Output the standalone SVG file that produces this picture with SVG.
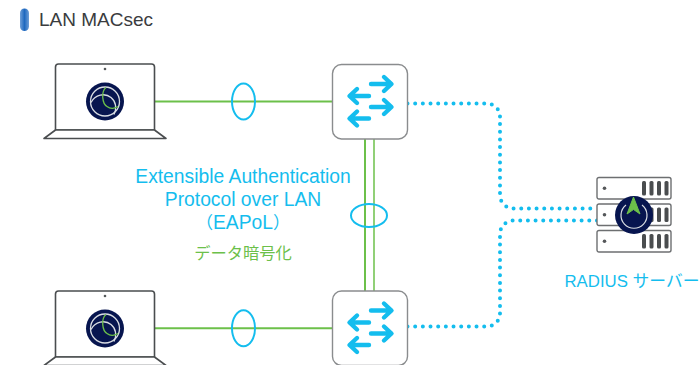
<svg xmlns="http://www.w3.org/2000/svg" width="699" height="365" viewBox="0 0 699 365">
<style>
text{font-family:"Liberation Sans","Noto Sans CJK JP",sans-serif}
.blue{fill:#14bdee}
.link{fill:none;stroke:#6cc04a;stroke-width:2}
.ring{fill:none;stroke:#14bdee;stroke-width:2}
.dots{fill:none;stroke:#14bdee;stroke-width:4;stroke-linecap:round;stroke-dasharray:0 7.67}
.edge{fill:#fff;stroke:#4a4d4f;stroke-width:1.6;stroke-linejoin:round}
.box{fill:#fff;stroke:#8a8c8e;stroke-width:1.4}
.arr{fill:none;stroke:#14bdee;stroke-width:4.4;stroke-linecap:round;stroke-linejoin:round}
.srv{fill:#fff;stroke:#6d6f71;stroke-width:1.4}
.bar{fill:#4a4d4f}
</style>
<defs>
<linearGradient id="pill" x1="0" x2="1" y1="0" y2="0">
<stop offset="0" stop-color="#6f9fd8"/>
<stop offset="0.5" stop-color="#1f69bf"/>
<stop offset="1" stop-color="#6f9fd8"/>
</linearGradient>
<g id="globe">
<circle r="19" fill="#07154f"/>
<circle r="14.500" fill="none" stroke="#d9dde3" stroke-width="1.300"/>
<path d="M-14 1C-10-7 0-9 6-4C11 0 12 7 9 13" fill="none" stroke="#d9dde3" stroke-width="1.300"/>
<path d="M1-14C-4-10-3 2 2 5C6 8 9 7 13 5" fill="none" stroke="#6cc04a" stroke-width="1.300"/>
</g>
<g id="laptop">
<path class="edge" d="M55.500 130V67a3 3 0 0 1 3-3H151.500a3 3 0 0 1 3 3V130Z"/>
<path class="edge" d="M55.500 130L44 138.500H166L154.500 130Z"/>
<circle cx="105" cy="69" r="1.300" fill="#55585a"/>
<use href="#globe" x="105" y="101.500"/>
</g>
<g id="switch">
<rect class="box" x="332.500" y="64.500" width="75" height="74.500" rx="9"/>
<path class="arr" d="M371 84H391M384 77L391.500 84L384 91"/>
<path class="arr" d="M369 96H350M357 89L349.500 96L357 103"/>
<path class="arr" d="M371 107H391M384 100L391.500 107L384 114"/>
<path class="arr" d="M369 118.500H350M357 111.500L349.500 118.500L357 125.500"/>
</g>
<g id="rack">
<rect class="srv" x="0" y="0" width="74" height="21.500" rx="2"/>
<circle cx="7.500" cy="10.700" r="1.800" fill="#55585a"/>
<rect class="bar" x="45" y="3.500" width="4" height="14.500" rx="1.500"/>
<rect class="bar" x="52.500" y="3.500" width="4" height="14.500" rx="1.500"/>
<rect class="bar" x="60" y="3.500" width="4" height="14.500" rx="1.500"/>
<rect class="bar" x="67.500" y="3.500" width="4" height="14.500" rx="1.500"/>
</g>
</defs>
<g id="title">
<rect x="20" y="8.500" width="9" height="22.500" rx="4.500" fill="url(#pill)"/>
<text x="39" y="26" font-size="19" fill="#3a3c3e">LAN MACsec</text>
</g>
<g id="connectors">
<path class="link" d="M155 101.500H332"/>
<path class="link" d="M155 328.300H332"/>
<path class="link" d="M365 139V291"/>
<path class="link" d="M374 139V291" style="stroke-width:1.500"/>
<ellipse class="ring" cx="243.500" cy="101.500" rx="11.500" ry="18"/>
<ellipse class="ring" cx="243.500" cy="328.300" rx="11.500" ry="18"/>
<ellipse class="ring" cx="369" cy="215.500" rx="18" ry="11.500"/>
<path class="dots" d="M407.500 103.500H487a13 13 0 0 1 13 13V195a13.500 13.500 0 0 0 13.500 13.500H597"/>
<path class="dots" d="M407.500 326.500H487a13 13 0 0 0 13-13V234a13.500 13.500 0 0 1 13.500-13.500H597"/>
</g>
<g id="laptop-a"><use href="#laptop"/></g>
<g id="laptop-b"><use href="#laptop" y="227"/></g>
<g id="switch-a"><use href="#switch"/></g>
<g id="switch-b"><use href="#switch" y="226.500"/></g>
<g id="server">
<use href="#rack" x="597" y="177.500"/>
<use href="#rack" x="597" y="204"/>
<use href="#rack" x="597" y="230.500"/>
<circle cx="634" cy="215" r="19" fill="#07154f"/>
<path d="M626 205A13 13 0 1 0 642 205" fill="none" stroke="#d9dde3" stroke-width="1.200"/>
<path d="M633.500 197L627 214L633.500 209.500L640 214Z" fill="#6cc04a" stroke="#6cc04a" stroke-width="1" stroke-linejoin="round"/>
<text class="blue" x="564.500" y="287" font-size="16.800">RADIUS サーバー</text>
</g>
<g id="labels">
<text class="blue" x="243" y="183" font-size="19.300" text-anchor="middle">Extensible Authentication</text>
<text class="blue" x="243" y="206" font-size="19.300" text-anchor="middle">Protocol over LAN</text>
<text class="blue" x="243" y="229" font-size="19.300" text-anchor="middle"><tspan font-size="17">（</tspan>EAPoL<tspan font-size="17">）</tspan></text>
<text x="243" y="259" font-size="16.300" text-anchor="middle" fill="#6cc04a">データ暗号化</text>
</g>
</svg>
